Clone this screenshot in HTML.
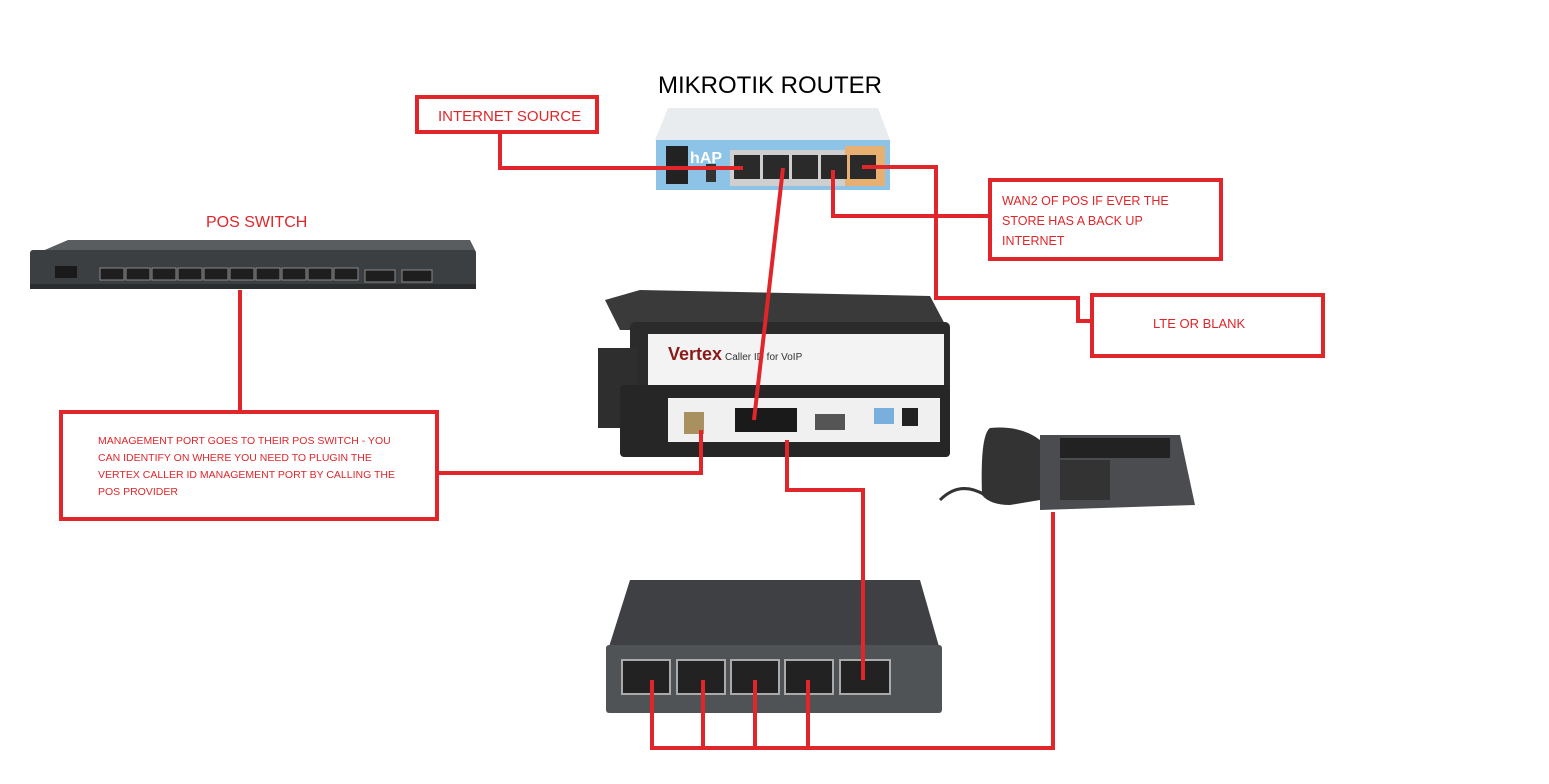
<!DOCTYPE html>
<html><head><meta charset="utf-8"><style>
html,body{margin:0;padding:0;background:#fff;}
body{width:1549px;height:784px;overflow:hidden;position:relative;font-family:"Liberation Sans",sans-serif;}
.t{position:absolute;color:#e0262a;font-size:15px;white-space:nowrap;}
</style></head><body>
<svg width="1549" height="784" style="position:absolute;left:0;top:0">
<polygon points="40,252 68,240 470,240 476,252" fill="#5a5d60"/>
<rect x="30" y="250" width="446" height="38" rx="3" fill="#3c3f42"/>
<rect x="30" y="284" width="446" height="5" fill="#2a2c2e"/>
<rect x="55" y="266" width="22" height="12" fill="#1a1a1a"/>
<g fill="#1e1e1e" stroke="#888" stroke-width="1">
<rect x="100" y="268" width="24" height="12"/><rect x="126" y="268" width="24" height="12"/><rect x="152" y="268" width="24" height="12"/><rect x="178" y="268" width="24" height="12"/><rect x="204" y="268" width="24" height="12"/><rect x="230" y="268" width="24" height="12"/><rect x="256" y="268" width="24" height="12"/><rect x="282" y="268" width="24" height="12"/><rect x="308" y="268" width="24" height="12"/><rect x="334" y="268" width="24" height="12"/>
<rect x="365" y="270" width="30" height="12"/><rect x="402" y="270" width="30" height="12"/></g>

<polygon points="668,108 878,108 890,140 655,140" fill="#e8ecee"/>
<rect x="656" y="140" width="234" height="50" fill="#8cc3e6"/>
<rect x="666" y="146" width="22" height="38" fill="#222"/>
<rect x="730" y="150" width="154" height="36" fill="#cfcfcf"/>
<rect x="845" y="146" width="40" height="40" fill="#e8b070"/>
<g fill="#2a2a2a"><rect x="734" y="155" width="26" height="24"/><rect x="763" y="155" width="26" height="24"/><rect x="792" y="155" width="26" height="24"/><rect x="821" y="155" width="26" height="24"/><rect x="850" y="155" width="26" height="24"/></g>
<rect x="706" y="164" width="10" height="18" fill="#333"/>
<text x="690" y="163" font-size="16" fill="#fff" font-weight="bold" font-family="Liberation Sans">hAP</text>

<polygon points="605,300 640,290 930,296 948,330 620,330" fill="#3a3a3a"/>
<rect x="630" y="322" width="320" height="70" rx="5" fill="#2b2b2b"/>
<rect x="648" y="334" width="296" height="54" fill="#f3f3f3"/>
<text x="668" y="360" font-size="18" font-weight="bold" fill="#8b1a1a" font-family="Liberation Sans">Vertex</text>
<text x="725" y="360" font-size="10" fill="#333" font-family="Liberation Sans">Caller ID for VoIP</text>
<rect x="598" y="348" width="40" height="80" fill="#2e2e2e"/>
<rect x="620" y="385" width="330" height="72" rx="4" fill="#262626"/>
<rect x="668" y="398" width="272" height="44" fill="#f0f0f0"/>
<rect x="684" y="412" width="20" height="22" fill="#a89060"/>
<rect x="735" y="408" width="62" height="24" fill="#1a1a1a"/>
<rect x="815" y="414" width="30" height="16" fill="#555"/>
<rect x="874" y="408" width="20" height="16" fill="#7aaedc"/>
<rect x="902" y="408" width="16" height="18" fill="#222"/>

<polygon points="1040,435 1180,435 1195,505 1040,510" fill="#4a4c4f"/>
<rect x="1060" y="438" width="110" height="20" fill="#222"/>
<rect x="1060" y="460" width="50" height="40" fill="#333"/>
<path d="M990,428 Q980,435 982,495 Q990,505 1010,505 L1040,500 L1040,440 Q1020,425 990,428Z" fill="#333"/>
<path d="M940,500 Q960,480 985,495" fill="none" stroke="#333" stroke-width="3"/>

<polygon points="630,580 920,580 940,650 608,650" fill="#3e4043"/>
<rect x="606" y="645" width="336" height="68" rx="3" fill="#505356"/>
<g fill="#222" stroke="#aaa" stroke-width="2"><rect x="622" y="660" width="48" height="34"/><rect x="677" y="660" width="48" height="34"/><rect x="731" y="660" width="48" height="34"/><rect x="785" y="660" width="48" height="34"/><rect x="840" y="660" width="50" height="34"/></g>

<g fill="none" stroke="#e0262a" stroke-width="4">
<polyline points="500,132 500,168 743,168"/>
<line x1="783" y1="168" x2="754" y2="420"/>
<polyline points="833,170 833,216 990,216"/>
<polyline points="862,167 936,167 936,298 1078,298 1078,321 1092,321"/>
<line x1="240" y1="290" x2="240" y2="412"/>
<polyline points="437,473 701,473 701,430"/>
<polyline points="787,440 787,490 863,490 863,680"/>
<polyline points="652,680 652,748 1053,748 1053,512"/>
<line x1="703" y1="680" x2="703" y2="748"/>
<line x1="755" y1="680" x2="755" y2="748"/>
<line x1="808" y1="680" x2="808" y2="748"/>
<rect x="417" y="97" width="180" height="35"/>
<rect x="990" y="180" width="231" height="79"/>
<rect x="1092" y="295" width="231" height="61"/>
<rect x="61" y="412" width="376" height="107"/>
</g>
</svg>
<div style="position:absolute;left:658px;top:72px;font-size:24px;color:#000">MIKROTIK ROUTER</div>
<div class="t" style="left:438px;top:108px;font-size:15px">INTERNET SOURCE</div>
<div class="t" style="left:206px;top:214px;font-size:16px">POS SWITCH</div>
<div class="t" style="left:1002px;top:191px;font-size:12.5px;line-height:20px">WAN2 OF POS IF EVER THE<br>STORE HAS A BACK UP<br>INTERNET</div>
<div class="t" style="left:1153px;top:316px;font-size:13px">LTE OR BLANK</div>
<div class="t" style="left:98px;top:433px;font-size:10.5px;line-height:17px">MANAGEMENT PORT GOES TO THEIR POS SWITCH - YOU<br>CAN IDENTIFY ON WHERE YOU NEED TO PLUGIN THE<br>VERTEX CALLER ID MANAGEMENT PORT BY CALLING THE<br>POS PROVIDER</div>
</body></html>
